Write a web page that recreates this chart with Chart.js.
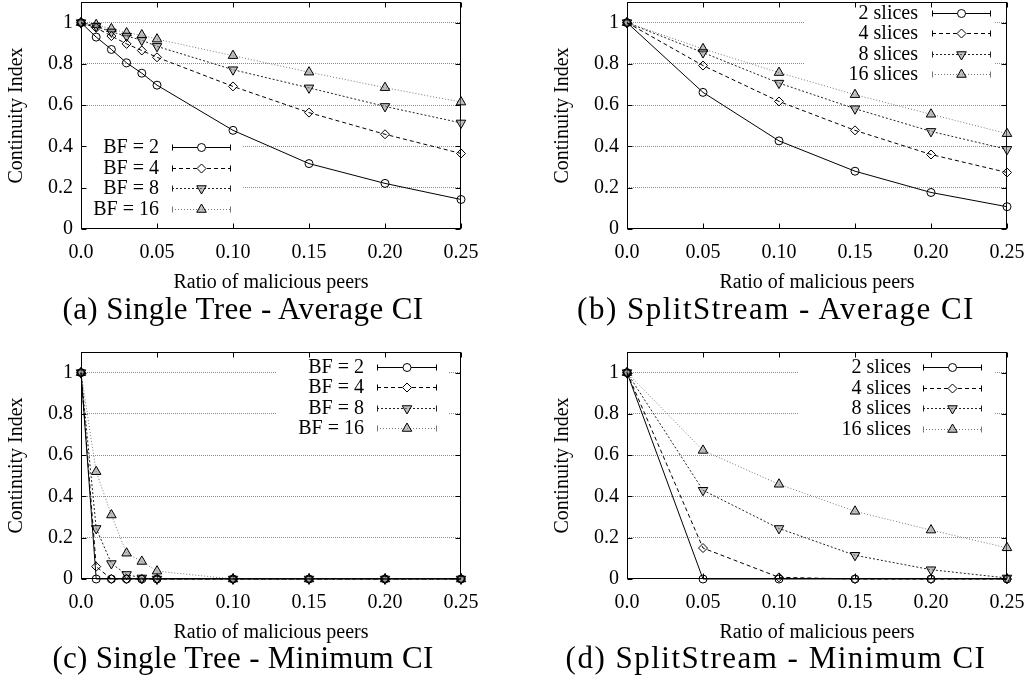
<!DOCTYPE html>
<html lang="en">
<head>
<meta charset="UTF-8">
<title>Continuity Index vs ratio of malicious peers</title>
<script src="https://cdn.jsdelivr.net/npm/chart.js@4.4.0/dist/chart.umd.min.js"></script>
<style>
  body { margin: 0; background: #fff; width: 1028px; height: 676px; position: relative; overflow: hidden; }
  canvas { position: absolute; }
  .caption {
    position: absolute; width: 500px; text-align: center; white-space: nowrap;
    font-family: 'Liberation Serif', 'Times New Roman', serif; font-size: 31px; line-height: 31px; color: #000;
  }
</style>
</head>
<body>
<canvas id="treeAvg" width="514" height="338" style="left:0;top:0"></canvas>
<canvas id="splitAvg" width="514" height="338" style="left:514px;top:0"></canvas>
<canvas id="treeMin" width="514" height="338" style="left:0;top:338px"></canvas>
<canvas id="splitMin" width="514" height="338" style="left:514px;top:338px"></canvas>
<div class="caption" style="left:-7px;top:293px;letter-spacing:0.4px">(a) Single Tree - Average CI</div>
<div class="caption" style="left:526px;top:293px;letter-spacing:1.5px">(b) SplitStream - Average CI</div>
<div class="caption" style="left:-7px;top:642px;letter-spacing:0.3px">(c) Single Tree - Minimum CI</div>
<div class="caption" style="left:526px;top:642px;letter-spacing:1.5px">(d) SplitStream - Minimum CI</div>
<script>
// x values: ratio of malicious peers
const ratioTree = [0, 0.01, 0.02, 0.03, 0.04, 0.05, 0.10, 0.15, 0.20, 0.25];
const ratioSplit = [0, 0.05, 0.10, 0.15, 0.20, 0.25];

const bfLabels = ['BF = 2', 'BF = 4', 'BF = 8', 'BF = 16'];
const sliceLabels = ['2 slices', '4 slices', '8 slices', '16 slices'];

const xTicks = [0, 0.05, 0.10, 0.15, 0.20, 0.25];
const xTickLabels = ['0.0', '0.05', '0.10', '0.15', '0.20', '0.25'];
const yTicks = [0, 0.2, 0.4, 0.6, 0.8, 1];
const yTickLabels = ['0', '0.2', '0.4', '0.6', '0.8', '1'];

// (a) single tree - average CI
const treeAvgBF2  = [1, 0.93, 0.87, 0.805, 0.755, 0.697, 0.478, 0.317, 0.221, 0.143];
const treeAvgBF4  = [1, 0.975, 0.935, 0.897, 0.865, 0.832, 0.691, 0.564, 0.459, 0.366];
const treeAvgBF8  = [1, 0.983, 0.955, 0.935, 0.915, 0.885, 0.772, 0.684, 0.594, 0.514];
const treeAvgBF16 = [1, 0.99, 0.97, 0.95, 0.94, 0.92, 0.84, 0.76, 0.685, 0.615];

// (b) splitstream - average CI
const splitAvg2  = [1, 0.662, 0.427, 0.28, 0.177, 0.108];
const splitAvg4  = [1, 0.792, 0.618, 0.478, 0.361, 0.274];
const splitAvg8  = [1, 0.855, 0.707, 0.583, 0.473, 0.386];
const splitAvg16 = [1, 0.873, 0.758, 0.651, 0.556, 0.462];

// (c) single tree - minimum CI
const treeMinBF2  = [1, 0, 0, 0, 0, 0, 0, 0, 0, 0];
const treeMinBF4  = [1, 0.06, 0, 0, 0, 0, 0, 0, 0, 0];
const treeMinBF8  = [1, 0.245, 0.075, 0.022, 0.005, 0, 0, 0, 0, 0];
const treeMinBF16 = [1, 0.52, 0.31, 0.125, 0.085, 0.038, 0, 0, 0, 0];

// (d) splitstream - minimum CI
const splitMin2  = [1, 0, 0, 0, 0, 0];
const splitMin4  = [1, 0.15, 0.008, 0, 0, 0];
const splitMin8  = [1, 0.43, 0.245, 0.115, 0.045, 0.005];
const splitMin16 = [1, 0.623, 0.459, 0.328, 0.237, 0.151];

Chart.defaults.font.family = "'Liberation Serif', 'Times New Roman', serif";
Chart.defaults.font.size = 20;
Chart.defaults.color = '#000';

// gnuplot-like line types
const seriesStyle = [
  { color: '#000', dash: [],     point: 'circle',   rotation: 0,   radius: 4,   fill: 'rgba(0,0,0,0)' },
  { color: '#000', dash: [4, 3], point: 'rectRot',  rotation: 0,   radius: 4.5, fill: 'rgba(0,0,0,0)' },
  { color: '#222', dash: [2, 2], point: 'triangle', rotation: 180, radius: 5.5, fill: 'rgba(140,140,140,0.55)' },
  { color: '#777', dash: [1, 2], point: 'triangle', rotation: 0,   radius: 5.5, fill: 'rgba(140,140,140,0.55)' }
];

// key placement per chart, offsets from the plot frame (side = 'left' or 'right')
const keyPlace = {
  treeAvg:  { side: 'left',  box: [1, 133, 162, 219],   textRight: 78,  s1: 91,  s2: 150, top: 145,  step: 20.7 },
  splitAvg: { side: 'right', box: [-202, 1, -12, 84],   textRight: -89, s1: -75, s2: -16, top: 11,   step: 20.3 },
  treeMin:  { side: 'right', box: [-184, 2, -13, 88],   textRight: -97, s1: -84, s2: -24, top: 14.7, step: 20.5 },
  splitMin: { side: 'right', box: [-209, 2, -12, 88],   textRight: -96, s1: -84, s2: -25, top: 15,   step: 20.7 }
};

function buildDatasets(xs, series, labels) {
  return series.map((ys, i) => {
    const s = seriesStyle[i];
    return {
      label: labels[i],
      data: xs.map((x, j) => ({ x: x, y: ys[j] })),
      borderColor: s.color,
      borderWidth: 1,
      borderDash: s.dash,
      pointStyle: s.point,
      pointRotation: s.rotation,
      pointRadius: s.radius,
      pointHoverRadius: s.radius,
      pointBorderColor: '#000',
      pointBorderWidth: 1,
      pointBackgroundColor: s.fill,
      tension: 0,
      fill: false,
      clip: 12
    };
  });
}

// frame with inward tics on all four sides, opaque key area, and the key itself
const framePlugin = {
  id: 'frameTics',
  beforeDatasetsDraw(chart) {
    const { ctx, chartArea: a } = chart;
    const k = keyPlace[chart.canvas.id];
    const ox = k.side === 'left' ? a.left : a.right;
    ctx.save();
    ctx.fillStyle = '#fff';
    ctx.fillRect(ox + k.box[0], a.top + k.box[1], k.box[2] - k.box[0], k.box[3] - k.box[1]);
    ctx.strokeStyle = '#000';
    ctx.lineWidth = 1;
    ctx.setLineDash([]);
    const L = Math.round(a.left) + 0.5, R = Math.round(a.right) - 0.5;
    const T = Math.round(a.top) + 0.5, B = Math.round(a.bottom) - 0.5;
    ctx.strokeRect(L, T, R - L, B - T);
    ctx.beginPath();
    chart.scales.x.ticks.forEach(t => {
      const px = Math.round(chart.scales.x.getPixelForValue(t.value)) + 0.5;
      ctx.moveTo(px, T); ctx.lineTo(px, T + 5);
      ctx.moveTo(px, B); ctx.lineTo(px, B - 5);
    });
    chart.scales.y.ticks.forEach(t => {
      const py = Math.round(chart.scales.y.getPixelForValue(t.value)) + 0.5;
      ctx.moveTo(L, py); ctx.lineTo(L + 5, py);
      ctx.moveTo(R, py); ctx.lineTo(R - 5, py);
    });
    ctx.stroke();
    ctx.restore();
  },
  afterDatasetsDraw(chart) {
    const { ctx, chartArea: a } = chart;
    const k = keyPlace[chart.canvas.id];
    const ox = k.side === 'left' ? a.left : a.right;
    const s1 = ox + k.s1, s2 = ox + k.s2;
    ctx.save();
    chart.data.datasets.forEach((ds, i) => {
      const s = seriesStyle[i];
      const y = Math.round(a.top + k.top + i * k.step) + 0.5;
      ctx.fillStyle = '#000';
      ctx.font = "20px 'Liberation Serif', 'Times New Roman', serif";
      ctx.textAlign = 'right';
      ctx.textBaseline = 'middle';
      ctx.fillText(ds.label, ox + k.textRight, y);
      ctx.strokeStyle = s.color;
      ctx.lineWidth = 1;
      ctx.setLineDash(s.dash);
      ctx.beginPath();
      ctx.moveTo(s1, y);
      ctx.lineTo(s2, y);
      ctx.stroke();
      ctx.setLineDash([]);
      ctx.beginPath();
      ctx.moveTo(Math.round(s1) + 0.5, y - 3); ctx.lineTo(Math.round(s1) + 0.5, y + 3);
      ctx.moveTo(Math.round(s2) - 0.5, y - 3); ctx.lineTo(Math.round(s2) - 0.5, y + 3);
      ctx.stroke();
      ctx.strokeStyle = '#000';
      ctx.fillStyle = s.point === 'triangle' ? s.fill : '#fff';
      Chart.helpers.drawPoint(ctx, {
        pointStyle: s.point, rotation: s.rotation, radius: s.radius, borderWidth: 1
      }, (s1 + s2) / 2, y);
    });
    ctx.restore();
  }
};

function makeChart(id, xs, series, labels, layout) {
  new Chart(document.getElementById(id), {
    type: 'line',
    data: { datasets: buildDatasets(xs, series, labels) },
    plugins: [framePlugin],
    options: {
      responsive: false,
      animation: false,
      events: [],
      layout: { autoPadding: false, padding: layout },
      scales: {
        x: {
          type: 'linear', min: 0, max: 0.25,
          afterBuildTicks: (sc) => { sc.ticks = xTicks.map(v => ({ value: v })); },
          afterFit: (sc) => { sc.height = 64; sc.paddingLeft = 0; sc.paddingRight = 0; },
          ticks: {
            autoSkip: false, maxRotation: 0, padding: 12,
            callback: (v, i) => xTickLabels[i]
          },
          grid: { display: false, drawTicks: false },
          border: { display: false },
          title: {
            display: true, text: 'Ratio of malicious peers',
            font: { size: 20, lineHeight: 1 }, padding: { top: 0, bottom: 0 }
          }
        },
        y: {
          type: 'linear', min: 0, max: 1.1,
          afterBuildTicks: (sc) => { sc.ticks = yTicks.map(v => ({ value: v })); },
          afterFit: (sc) => { sc.width = 81; sc.paddingTop = 0; sc.paddingBottom = 0; },
          ticks: { padding: 8, callback: (v, i) => yTickLabels[i] },
          grid: {
            drawTicks: false, lineWidth: 1,
            color: (c) => (c.tick && c.tick.value === 0) ? 'rgba(0,0,0,0)' : '#8c8c8c'
          },
          border: { display: false, dash: [1, 1] },
          title: {
            display: true, text: 'Continuity Index',
            font: { size: 20, lineHeight: 1 }, padding: { top: 7, bottom: 0 }
          }
        }
      },
      plugins: {
        legend: { display: false },
        tooltip: { enabled: false }
      }
    }
  });
}

makeChart('treeAvg', ratioTree, [treeAvgBF2, treeAvgBF4, treeAvgBF8, treeAvgBF16], bfLabels,
  { left: 0, right: 53, top: 2, bottom: 45 });
makeChart('splitAvg', ratioSplit, [splitAvg2, splitAvg4, splitAvg8, splitAvg16], sliceLabels,
  { left: 32, right: 21, top: 2, bottom: 45 });
makeChart('treeMin', ratioTree, [treeMinBF2, treeMinBF4, treeMinBF8, treeMinBF16], bfLabels,
  { left: 0, right: 53, top: 14, bottom: 33 });
makeChart('splitMin', ratioSplit, [splitMin2, splitMin4, splitMin8, splitMin16], sliceLabels,
  { left: 32, right: 21, top: 14, bottom: 33 });
</script>
</body>
</html>
